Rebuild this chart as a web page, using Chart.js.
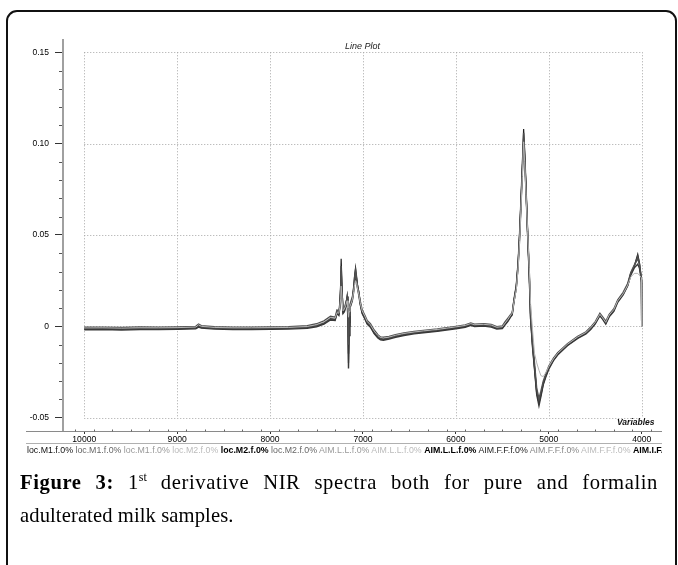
<!DOCTYPE html>
<html>
<head>
<meta charset="utf-8">
<script src="https://cdn.jsdelivr.net/npm/chart.js@4"></script>
<style>
  html, body { margin: 0; padding: 0; background: #fff; }
  #wrap { position: relative; width: 678px; height: 565px; overflow: hidden; background: #fff; }
  #frame { position: absolute; left: 6px; top: 10px; width: 667px; height: 700px; border: 2px solid #111; border-radius: 11px; box-sizing: content-box; }
  #c { position: absolute; left: 0; top: 0; }
  #title { position: absolute; left: 345px; top: 41px; font: italic 9px "Liberation Sans", Arial, sans-serif; color: #222; line-height: 11px; white-space: nowrap; }
  #varlabel { position: absolute; left: 617px; top: 417px; font: italic bold 8.5px "Liberation Sans", Arial, sans-serif; color: #111; line-height: 11px; white-space: nowrap; }
  #samples { position: absolute; left: 27px; top: 445px; width: 635px; overflow: hidden; font: 8.8px "Liberation Sans", Arial, sans-serif; line-height: 11px; white-space: nowrap; }
  .cap { position: absolute; left: 20px; width: 638px; font: 20.6px "Liberation Serif", "Times New Roman", serif; line-height: 33px; color: #000; white-space: nowrap; }
  #cap1 { top: 466px; text-align: justify; text-align-last: justify; white-space: normal; letter-spacing: 0.6px; }
  #cap2 { top: 499px; text-align: left; letter-spacing: 0.1px; }
  .cap sup { font-size: 12px; line-height: 0; vertical-align: 8px; letter-spacing: 0; }
</style>
</head>
<body>
<div id="wrap">
  <div id="frame"></div>
  <canvas id="c" width="678" height="565"></canvas>
  <div id="title">Line Plot</div>
  <div id="varlabel">Variables</div>
  <div id="samples"></div>
  <div id="cap1" class="cap"><b>Figure 3:</b> 1<sup>st</sup> derivative NIR spectra both for pure and formalin</div>
  <div id="cap2" class="cap">adulterated milk samples.</div>
</div>
<script>
// ---- data ----
const wavenumbers = [
  10000, 9800, 9600, 9400, 9200, 9000, 8800, 8770,
  8740, 8600, 8400, 8200, 8000, 7800, 7600, 7500,
  7420, 7350, 7300, 7280, 7260, 7250, 7240, 7235,
  7225, 7215, 7200, 7185, 7171, 7162, 7156, 7150,
  7140, 7128, 7115, 7100, 7090, 7080, 7070, 7060,
  7045, 7030, 7009, 6980, 6955, 6920, 6880, 6840,
  6812, 6780, 6720, 6650, 6560, 6450, 6350, 6200,
  6100, 6000, 5900, 5840, 5800, 5700, 5620, 5560,
  5500, 5470, 5440, 5410, 5394, 5376, 5350, 5330,
  5314, 5300, 5285, 5271, 5260, 5245, 5228, 5210,
  5196, 5175, 5153, 5130, 5106, 5085, 5060, 5034,
  5000, 4950, 4905, 4800, 4689, 4600, 4549, 4500,
  4450, 4420, 4387, 4350, 4300, 4258, 4200, 4150,
  4118, 4080, 4043, 4025, 4010, 4003, 4000
];

const specA = [
  -0.0012, -0.0010, -0.0013, -0.0011, -0.0010, -0.0010, -0.0006, 0.0005,
  -0.0003, -0.0008, -0.0010, -0.0011, -0.0010, -0.0008, -0.0004, 0.0006,
  0.0020, 0.0045, 0.0040, 0.0080, 0.0070, 0.0110, 0.0240, 0.0370,
  0.0200, 0.0080, 0.0090, 0.0120, 0.0165, 0.0080, -0.0200, 0.0020,
  0.0110, 0.0130, 0.0150, 0.0220, 0.0280, 0.0320, 0.0270, 0.0230,
  0.0190, 0.0130, 0.0080, 0.0050, 0.0022, 0.0005, -0.0030, -0.0055,
  -0.0066, -0.0068, -0.0062, -0.0052, -0.0042, -0.0034, -0.0028, -0.0020,
  -0.0013, -0.0006, 0.0002, 0.0012, 0.0006, 0.0008, 0.0004, -0.0008,
  -0.0005, 0.0015, 0.0035, 0.0060, 0.0070, 0.0140, 0.0220, 0.0350,
  0.0510, 0.0680, 0.0870, 0.1080, 0.0950, 0.0750, 0.0510, 0.0280,
  0.0050, -0.0100, -0.0226, -0.0360, -0.0420, -0.0370, -0.0310, -0.0270,
  -0.0225, -0.0180, -0.0150, -0.0100, -0.0060, -0.0035, -0.0010, 0.0020,
  0.0065, 0.0045, 0.0020, 0.0060, 0.0090, 0.0140, 0.0180, 0.0230,
  0.0290, 0.0330, 0.0395, 0.0350, 0.0280, 0.0250, 0.0000
];

const specB = [
  -0.0005, -0.0004, -0.0006, -0.0003, -0.0004, -0.0003, 0.0000, 0.0012,
  0.0004, -0.0002, -0.0004, -0.0005, -0.0003, -0.0002, 0.0003, 0.0014,
  0.0030, 0.0055, 0.0050, 0.0090, 0.0085, 0.0120, 0.0200, 0.0300,
  0.0180, 0.0095, 0.0100, 0.0130, 0.0150, 0.0110, -0.0100, 0.0060,
  0.0120, 0.0140, 0.0160, 0.0200, 0.0250, 0.0290, 0.0260, 0.0220,
  0.0180, 0.0140, 0.0090, 0.0060, 0.0032, 0.0014, -0.0020, -0.0046,
  -0.0058, -0.0060, -0.0055, -0.0046, -0.0036, -0.0028, -0.0022, -0.0014,
  -0.0007, 0.0000, 0.0008, 0.0018, 0.0012, 0.0014, 0.0010, -0.0002,
  0.0002, 0.0025, 0.0045, 0.0065, 0.0075, 0.0135, 0.0210, 0.0330,
  0.0480, 0.0650, 0.0840, 0.1030, 0.0930, 0.0740, 0.0520, 0.0300,
  0.0070, -0.0080, -0.0205, -0.0340, -0.0395, -0.0355, -0.0300, -0.0262,
  -0.0218, -0.0174, -0.0145, -0.0095, -0.0055, -0.0030, -0.0004, 0.0026,
  0.0072, 0.0052, 0.0028, 0.0066, 0.0096, 0.0145, 0.0186, 0.0236,
  0.0295, 0.0335, 0.0370, 0.0340, 0.0290, 0.0260, 0.0000
];

const specC = [
  -0.0019, -0.0017, -0.0020, -0.0018, -0.0017, -0.0016, -0.0013, -0.0004,
  -0.0010, -0.0015, -0.0017, -0.0018, -0.0016, -0.0015, -0.0011, -0.0002,
  0.0012, 0.0035, 0.0032, 0.0070, 0.0060, 0.0100, 0.0180, 0.0260,
  0.0160, 0.0070, 0.0080, 0.0110, 0.0130, 0.0040, -0.0230, -0.0050,
  0.0100, 0.0120, 0.0140, 0.0190, 0.0240, 0.0270, 0.0250, 0.0210,
  0.0170, 0.0120, 0.0070, 0.0040, 0.0012, -0.0005, -0.0040, -0.0064,
  -0.0074, -0.0076, -0.0070, -0.0060, -0.0050, -0.0041, -0.0035, -0.0027,
  -0.0020, -0.0013, -0.0005, 0.0005, -0.0001, 0.0001, -0.0004, -0.0015,
  -0.0012, 0.0008, 0.0028, 0.0052, 0.0062, 0.0130, 0.0215, 0.0340,
  0.0500, 0.0670, 0.0850, 0.1000, 0.0920, 0.0730, 0.0500, 0.0270,
  0.0040, -0.0115, -0.0240, -0.0375, -0.0435, -0.0385, -0.0320, -0.0280,
  -0.0234, -0.0188, -0.0157, -0.0106, -0.0066, -0.0041, -0.0017, 0.0013,
  0.0058, 0.0038, 0.0012, 0.0052, 0.0082, 0.0132, 0.0172, 0.0222,
  0.0280, 0.0320, 0.0340, 0.0320, 0.0270, 0.0240, 0.0000
];

const specD = [
  -0.0009, -0.0008, -0.0010, -0.0008, -0.0008, -0.0007, -0.0004, 0.0008,
  0.0000, -0.0006, -0.0008, -0.0008, -0.0007, -0.0006, -0.0001, 0.0009,
  0.0024, 0.0048, 0.0044, 0.0075, 0.0072, 0.0105, 0.0150, 0.0220,
  0.0150, 0.0085, 0.0095, 0.0115, 0.0140, 0.0100, 0.0050, 0.0080,
  0.0110, 0.0125, 0.0145, 0.0190, 0.0230, 0.0250, 0.0240, 0.0210,
  0.0175, 0.0130, 0.0085, 0.0055, 0.0026, 0.0008, -0.0026, -0.0050,
  -0.0062, -0.0064, -0.0059, -0.0049, -0.0039, -0.0031, -0.0025, -0.0017,
  -0.0010, -0.0003, 0.0005, 0.0015, 0.0009, 0.0011, 0.0007, -0.0005,
  -0.0002, 0.0018, 0.0038, 0.0062, 0.0072, 0.0130, 0.0200, 0.0320,
  0.0470, 0.0640, 0.0820, 0.1010, 0.0900, 0.0720, 0.0520, 0.0320,
  0.0120, -0.0020, -0.0150, -0.0200, -0.0240, -0.0270, -0.0275, -0.0255,
  -0.0220, -0.0178, -0.0148, -0.0098, -0.0058, -0.0033, -0.0008, 0.0022,
  0.0066, 0.0046, 0.0022, 0.0062, 0.0092, 0.0140, 0.0178, 0.0226,
  0.0270, 0.0290, 0.0290, 0.0280, 0.0270, 0.0265, 0.0000
];

const specE = [
  -0.0015, -0.0013, -0.0016, -0.0014, -0.0013, -0.0013, -0.0009, 0.0002,
  -0.0006, -0.0011, -0.0013, -0.0014, -0.0013, -0.0011, -0.0007, 0.0003,
  0.0016, 0.0040, 0.0036, 0.0076, 0.0066, 0.0105, 0.0210, 0.0330,
  0.0190, 0.0075, 0.0085, 0.0115, 0.0160, 0.0070, -0.0150, 0.0000,
  0.0105, 0.0125, 0.0145, 0.0210, 0.0270, 0.0310, 0.0275, 0.0225,
  0.0185, 0.0125, 0.0075, 0.0045, 0.0017, 0.0000, -0.0035, -0.0060,
  -0.0070, -0.0072, -0.0066, -0.0056, -0.0046, -0.0037, -0.0031, -0.0024,
  -0.0016, -0.0009, -0.0001, 0.0009, 0.0003, 0.0005, 0.0001, -0.0011,
  -0.0008, 0.0012, 0.0032, 0.0056, 0.0066, 0.0145, 0.0225, 0.0355,
  0.0515, 0.0690, 0.0880, 0.1060, 0.0960, 0.0760, 0.0505, 0.0275,
  0.0045, -0.0105, -0.0232, -0.0365, -0.0415, -0.0375, -0.0315, -0.0274,
  -0.0229, -0.0184, -0.0153, -0.0103, -0.0063, -0.0038, -0.0013, 0.0017,
  0.0062, 0.0042, 0.0017, 0.0057, 0.0087, 0.0137, 0.0177, 0.0227,
  0.0288, 0.0328, 0.0385, 0.0345, 0.0285, 0.0255, 0.0000
];

const xTickValues = [10000, 9000, 8000, 7000, 6000, 5000, 4000];
const xTickLabels = ['10000', '9000', '8000', '7000', '6000', '5000', '4000'];
const yTickValues = [0.15, 0.10, 0.05, 0, -0.05];
const yTickLabels = ['0.15', '0.10', '0.05', '0', '-0.05'];

const sampleLabels = ['loc.M1.f.0%', 'loc.M1.f.0%', 'loc.M1.f.0%', 'loc.M2.f.0%', 'loc.M2.f.0%', 'loc.M2.f.0%',
  'AIM.L.L.f.0%', 'AIM.L.L.f.0%', 'AIM.L.L.f.0%', 'AIM.F.F.f.0%', 'AIM.F.F.f.0%', 'AIM.F.F.f.0%', 'AIM.I.F.'];
const sampleColors = ['#111', '#666', '#999', '#bbb', '#000', '#666', '#999', '#bbb', '#000', '#222', '#888', '#bbb', '#000'];
const sampleBold = [false, false, false, false, true, false, false, false, true, false, false, false, true];

// ---- sample label row ----
const samplesDiv = document.getElementById('samples');
sampleLabels.forEach((t, i) => {
  const s = document.createElement('span');
  s.textContent = t;
  s.style.color = sampleColors[i];
  if (sampleBold[i]) s.style.fontWeight = 'bold';
  samplesDiv.appendChild(s);
  if (i < sampleLabels.length - 1) samplesDiv.appendChild(document.createTextNode(' '));
});

// ---- chart ----
const series = [
  { data: specD, color: '#b4b4b4', width: 1 },
  { data: specB, color: '#505050', width: 1.4 },
  { data: specC, color: '#383838', width: 1.4 },
  { data: specE, color: '#4a4a4a', width: 1.4 },
  { data: specA, color: '#1e1e1e', width: 1.2 }
];

const axisExtras = {
  id: 'axisExtras',
  beforeDatasetsDraw(chart) {
    const { ctx, scales: { x, y } } = chart;
    const xl = x.getPixelForValue(xTickValues[0]);
    const xr = x.getPixelForValue(xTickValues[xTickValues.length - 1]);
    const yt = y.getPixelForValue(yTickValues[0]);
    const yb = y.getPixelForValue(yTickValues[yTickValues.length - 1]);
    ctx.save();
    ctx.strokeStyle = '#a6a6a6';
    ctx.lineWidth = 1;
    ctx.setLineDash([1, 2]);
    yTickValues.forEach(v => {
      const py = Math.round(y.getPixelForValue(v)) + 0.5;
      ctx.beginPath(); ctx.moveTo(xl, py); ctx.lineTo(xr, py); ctx.stroke();
    });
    xTickValues.forEach(v => {
      const px = Math.round(x.getPixelForValue(v)) + 0.5;
      ctx.beginPath(); ctx.moveTo(px, yt); ctx.lineTo(px, yb); ctx.stroke();
    });
    ctx.restore();
  },
  afterDraw(chart) {
    const { ctx, scales: { x, y }, chartArea } = chart;
    ctx.save();
    // minor ticks on y axis (every 0.01)
    ctx.strokeStyle = '#555';
    ctx.lineWidth = 1;
    for (let k = -5; k <= 15; k++) {
      if (k % 5 === 0) continue;
      const py = Math.round(y.getPixelForValue(k / 100)) + 0.5;
      ctx.beginPath(); ctx.moveTo(chartArea.left - 4, py); ctx.lineTo(chartArea.left - 1, py); ctx.stroke();
    }
    // bottom axis lines
    const by = Math.round(chartArea.bottom) + 0.5;
    ctx.strokeStyle = '#8a8a8a';
    ctx.beginPath(); ctx.moveTo(26, by); ctx.lineTo(662, by); ctx.stroke();
    ctx.strokeStyle = '#b0b0b0';
    ctx.beginPath(); ctx.moveTo(26, by + 12); ctx.lineTo(662, by + 12); ctx.stroke();
    // minor ticks on x axis (every 200)
    ctx.strokeStyle = '#666';
    for (let w = 3900; w <= 10200; w += 200) {
      if (w % 1000 === 0) continue;
      const px = Math.round(x.getPixelForValue(w)) + 0.5;
      if (px < 26 || px > 662) continue;
      ctx.beginPath(); ctx.moveTo(px, by - 2); ctx.lineTo(px, by); ctx.stroke();
    }
    ctx.restore();
  }
};

new Chart(document.getElementById('c'), {
  type: 'line',
  data: {
    datasets: series.map(s => ({
      data: wavenumbers.map((w, i) => ({ x: w, y: s.data[i] })),
      borderColor: s.color,
      borderWidth: s.width,
      pointRadius: 0,
      tension: 0,
      fill: false
    }))
  },
  options: {
    responsive: false,
    animation: false,
    events: [],
    layout: { padding: { left: 0, top: 40, right: 23, bottom: 114 } },
    plugins: { legend: { display: false }, tooltip: { enabled: false }, title: { display: false } },
    scales: {
      x: {
        type: 'linear',
        reverse: true,
        min: 3857,
        max: 10229,
        afterBuildTicks: (scale) => { scale.ticks = xTickValues.map(v => ({ value: v })); },
        afterFit: (scale) => { scale.height = 20; },
        ticks: {
          autoSkip: false,
          maxRotation: 0,
          padding: 0,
          color: '#000',
          font: { family: '"Liberation Sans", Arial, sans-serif', size: 8.6 },
          callback: (v) => xTickLabels[xTickValues.indexOf(v)]
        },
        grid: { drawOnChartArea: false, drawTicks: true, tickLength: 3, color: '#333' },
        border: { display: false }
      },
      y: {
        type: 'linear',
        min: -0.05728,
        max: 0.15673,
        afterBuildTicks: (scale) => { scale.ticks = yTickValues.map(v => ({ value: v })); },
        afterFit: (scale) => { scale.width = 63; },
        ticks: {
          autoSkip: false,
          padding: 6,
          color: '#000',
          font: { family: '"Liberation Sans", Arial, sans-serif', size: 8.5 },
          callback: (v) => {
            const i = yTickValues.findIndex(t => Math.abs(t - v) < 1e-9);
            return i >= 0 ? yTickLabels[i] : '';
          }
        },
        grid: { drawOnChartArea: false, drawTicks: true, tickLength: 8, color: '#333' },
        border: { display: true, color: '#a0a0a0', width: 2 }
      }
    }
  },
  plugins: [axisExtras]
});
</script>
</body>
</html>
